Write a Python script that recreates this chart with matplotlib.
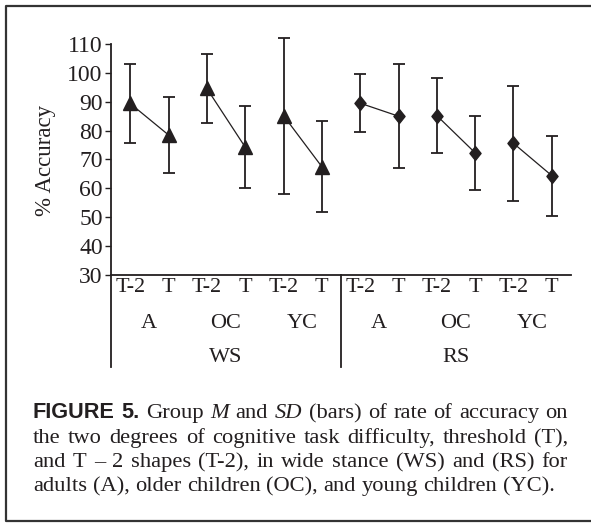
import matplotlib
matplotlib.use('Agg')
import matplotlib.pyplot as plt
from matplotlib.lines import Line2D
from matplotlib.path import Path

# data (group means and SD bars)
stances = ['WS', 'RS']
groups = ['A', 'OC', 'YC']
tasks = ['T-2', 'T']
ws_mean = [89.4, 78.5, 94.6, 74.3, 85.2, 67.5]
ws_sd = [13.8, 13.2, 12.0, 14.2, 27.0, 15.8]
rs_mean = [89.5, 85.0, 85.2, 72.3, 75.6, 64.4]
rs_sd = [10.0, 18.0, 12.9, 12.9, 19.9, 13.9]
yticks = [30, 40, 50, 60, 70, 80, 90, 100, 110]

caption = [
    [('FIGURE', 'b'), ('5.', 'b'), ('Group', 'r'), ('M', 'i'), ('and', 'r'), ('SD', 'i'),
     ('(bars)', 'r'), ('of', 'r'), ('rate', 'r'), ('of', 'r'), ('accuracy', 'r'), ('on', 'r')],
    [(w, 'r') for w in 'the two degrees of cognitive task difficulty, threshold (T),'.split()],
    [(w, 'r') for w in 'and T \u2013 2 shapes (T-2), in wide stance (WS) and (RS) for'.split()],
    [(w, 'r') for w in 'adults (A), older children (OC), and young children (YC).'.split()],
]

ink = '#231f20'
plt.rcParams['font.family'] = ['Liberation Serif', 'DejaVu Serif']
plt.rcParams['text.color'] = ink

W, H = 591, 523
fig = plt.figure(figsize=(W / 100, H / 100), dpi=100)
ax = fig.add_axes([111 / W, (H - 275) / H, 460 / W, 231 / H])

diamond = Path([(0, 1), (0.8, 0), (0, -1), (-0.8, 0), (0, 1)],
               [Path.MOVETO, Path.LINETO, Path.LINETO, Path.LINETO, Path.CLOSEPOLY])

series = [(ws_mean, ws_sd, '^', 10.5, 0), (rs_mean, rs_sd, diamond, 10, 6)]
for means, sds, mk, ms, off in series:
    for g in range(3):
        xs = [off + 2 * g, off + 2 * g + 1]
        m = means[2 * g:2 * g + 2]
        s = sds[2 * g:2 * g + 2]
        eb = ax.errorbar(xs, m, yerr=s, fmt='none', ecolor=ink, elinewidth=1.3,
                         capsize=4, capthick=1.3)
        for art in eb.lines[1] + eb.lines[2]:
            art.set_clip_on(False)
        ax.plot(xs, m, color=ink, lw=0.9, marker=mk, markersize=ms,
                markerfacecolor=ink, markeredgecolor=ink, clip_on=False, zorder=3)

ax.set_xlim(-0.5, 11.5)
ax.set_ylim(30, 110)
ax.set_yticks(yticks)
ax.set_xticks([])
ax.tick_params(axis='y', length=4, width=1, direction='out', labelsize=17, pad=2, colors=ink)
for sp in ['top', 'right']:
    ax.spines[sp].set_visible(False)
for sp in ['left', 'bottom']:
    ax.spines[sp].set_linewidth(1.3)
    ax.spines[sp].set_color(ink)

fig.text(45, H - 160, '% Accuracy', transform=None, rotation=90, ha='center', va='center', fontsize=16.5)

# category label rows below the axis
tr = ax.get_xaxis_transform()
for i in range(12):
    ax.text(i, -0.056, tasks[i % 2], transform=tr, ha='center', va='center', fontsize=16)
for si, st in enumerate(stances):
    for gi, gr in enumerate(groups):
        ax.text(6 * si + 2 * gi + 0.5, -0.208, gr, transform=tr, ha='center', va='center', fontsize=16)
    ax.text(6 * si + 2.5, -0.355, st, transform=tr, ha='center', va='center', fontsize=16)
for xv in [-0.5, 5.5]:
    ax.add_line(Line2D([xv, xv], [0, -0.398], transform=tr, color=ink, lw=1.3, clip_on=False))

# outer frame: left, top and bottom only (right edge is cut off in the scan)
fx = [W + 5, 6, 6, W + 5]
fy = [H - 6, H - 6, H - 521, H - 521]
fig.add_artist(Line2D(fx, fy, transform=None, color='#333333', lw=1.6))

# justified caption
fs = 16.2
renderer = fig.canvas.get_renderer()
styles = {'r': dict(fontsize=fs),
          'i': dict(fontsize=fs, style='italic'),
          'b': dict(fontsize=fs - 0.6, family=['Liberation Sans', 'DejaVu Sans'], weight='bold')}
x0, x1 = 33, 568
baselines = [418, 443, 467, 491]
space = 0.25 * fs * 100 / 72
for li, line in enumerate(caption):
    texts = [fig.text(0, 0, w, va='baseline', ha='left', transform=None, **styles[s]) for w, s in line]
    widths = [t.get_window_extent(renderer).width for t in texts]
    if li < len(caption) - 1:
        gap = (x1 - x0 - sum(widths)) / (len(texts) - 1)
    else:
        gap = space
    x = x0
    for t, w in zip(texts, widths):
        t.set_position((x, H - baselines[li]))
        x += w + gap

fig.savefig('out.png', dpi=100)
